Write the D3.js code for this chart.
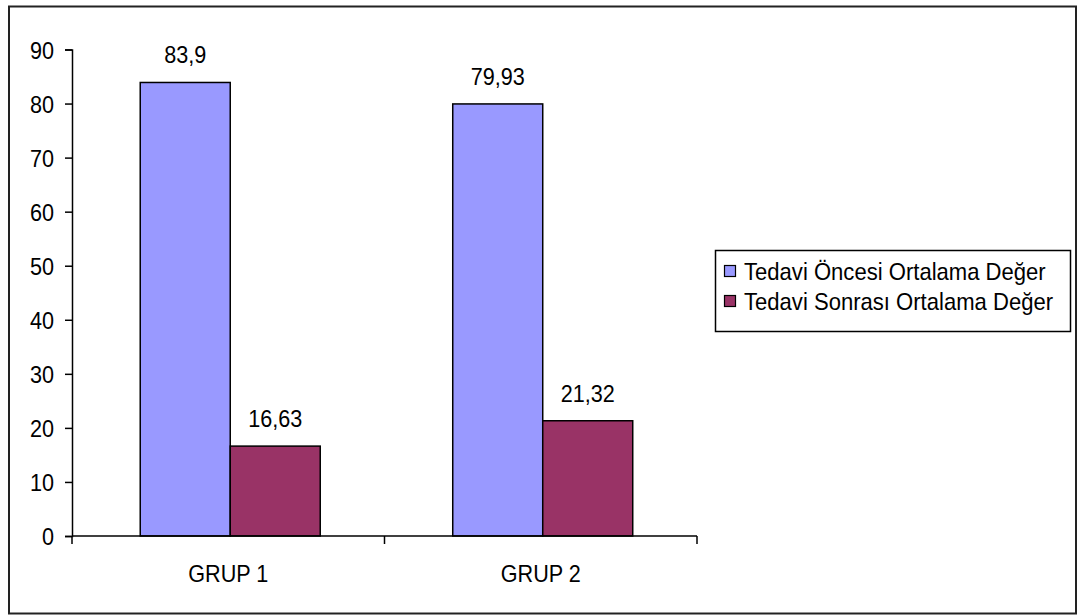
<!DOCTYPE html>
<html>
<head>
<meta charset="utf-8">
<script src="https://cdn.jsdelivr.net/npm/d3@7"></script>
<style>
  html, body { margin: 0; padding: 0; background: #fff; }
  svg { display: block; }
  text { font-family: "Liberation Sans", Arial, sans-serif; fill: #000; }
</style>
</head>
<body>
<svg id="chart" width="1078" height="615"></svg>
<script>
const categories = ["GRUP 1", "GRUP 2"];
const seriesNames = ["Tedavi Öncesi Ortalama Değer", "Tedavi Sonrası Ortalama Değer"];
const beforeValues = [83.9, 79.93];
const afterValues = [16.63, 21.32];
const seriesColors = ["#9999FF", "#993366"];
const yTickValues = [0, 10, 20, 30, 40, 50, 60, 70, 80, 90];

const rows = categories.map((c, i) => ({ cat: c, values: [beforeValues[i], afterValues[i]] }));

const svg = d3.select("#chart");
const FS = 24, SX = 0.9;

// outer frame
svg.append("rect")
  .attr("x", 9).attr("y", 6.5).attr("width", 1067).attr("height", 607)
  .attr("fill", "#fff").attr("stroke", "#222").attr("stroke-width", 2);

const x0 = d3.scaleBand().domain(categories).range([72, 697])
  .paddingInner(0.424).paddingOuter(0.212).align(0.515);
const x1 = d3.scaleBand().domain(d3.range(seriesNames.length)).range([0, x0.bandwidth()]);
const y = d3.scaleLinear().domain([0, 90]).range([536, 49.5]);

const fmt = v => String(v).replace(".", ",");

function txt(sel, x, yy, s, anchor, size, sx) {
  return sel.append("text")
    .attr("transform", `translate(${x},${yy}) scale(${sx || SX},1)`)
    .attr("text-anchor", anchor || "middle")
    .attr("font-size", size || FS)
    .text(s);
}

// Y axis
const yAxis = d3.axisLeft(y).tickValues(yTickValues).tickSize(7).tickPadding(11).tickFormat(d3.format("d"));
const gy = svg.append("g").attr("transform", "translate(72,0)").call(yAxis);
gy.select(".domain").attr("stroke", "#000").attr("stroke-width", 1.5);
gy.selectAll(".tick line").attr("stroke", "#000").attr("stroke-width", 1.5);
gy.selectAll(".tick text").remove();
gy.selectAll(".tick").each(function(d) {
  txt(d3.select(this), -18, 8.5, d3.format("d")(d), "end");
});

// bars
const groups = svg.append("g").selectAll("g").data(rows).join("g")
  .attr("transform", d => `translate(${x0(d.cat)},0)`);
groups.selectAll("rect").data(d => d.values.map((v, i) => ({ v, i }))).join("rect")
  .attr("x", d => x1(d.i))
  .attr("y", d => y(d.v))
  .attr("width", x1.bandwidth())
  .attr("height", d => y(0) - y(d.v))
  .attr("fill", d => seriesColors[d.i])
  .attr("stroke", "#000").attr("stroke-width", 1.5);
groups.each(function(d) {
  const g = d3.select(this);
  d.values.forEach((v, i) => {
    txt(g, x1(i) + x1.bandwidth() / 2, y(v) - 19, fmt(v), "middle");
  });
});

// X axis
const xAxisLine = svg.append("g");
xAxisLine.append("line").attr("x1", 72).attr("x2", 697).attr("y1", y(0)).attr("y2", y(0))
  .attr("stroke", "#000").attr("stroke-width", 1.5);
const boundaries = [72, 72 + (697 - 72) / 2, 697];
xAxisLine.selectAll("line.tk").data(boundaries).join("line").attr("class", "tk")
  .attr("x1", d => d).attr("x2", d => d).attr("y1", y(0)).attr("y2", y(0) + 8)
  .attr("stroke", "#000").attr("stroke-width", 1.5);
categories.forEach((c, i) => {
  const cx = 72 + (i + 0.5) * (697 - 72) / categories.length;
  txt(xAxisLine, cx, 582, c, "middle");
});

// legend
const lg = svg.append("g");
lg.append("rect").attr("x", 715.5).attr("y", 250.5).attr("width", 355).attr("height", 81)
  .attr("fill", "#fff").attr("stroke", "#000").attr("stroke-width", 1.5);
seriesNames.forEach((s, i) => {
  lg.append("rect").attr("x", 724.5).attr("y", 265.5 + i * 30).attr("width", 11).attr("height", 11)
    .attr("fill", seriesColors[i]).attr("stroke", "#000").attr("stroke-width", 1.2);
  txt(lg, 744, 280 + i * 30, s, "start", 24, 0.92);
});
</script>
</body>
</html>
